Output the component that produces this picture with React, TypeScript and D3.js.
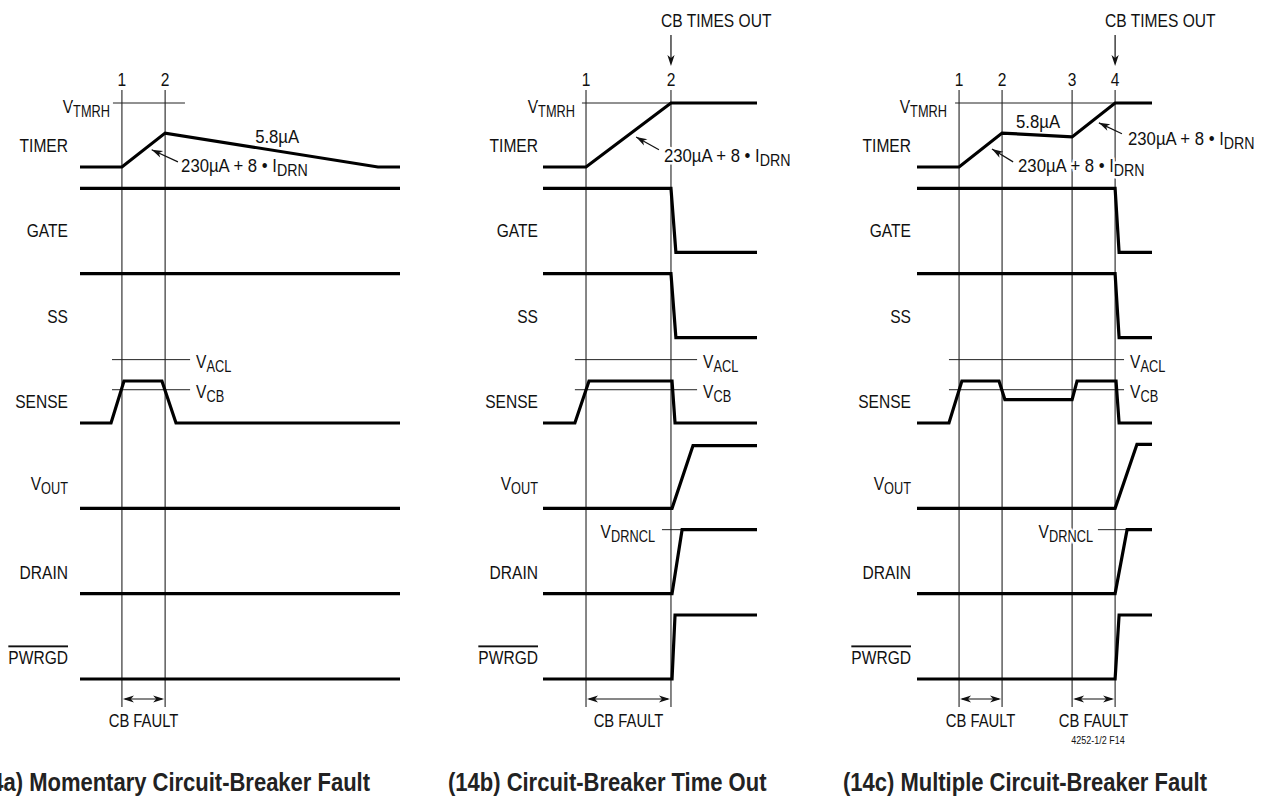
import React from 'react';
import * as d3 from 'd3';

type Pt = [number, number];

const rowNames = ['TIMER', 'GATE', 'SS', 'SENSE', 'VOUT', 'DRAIN', 'PWRGD'];

// Panel (14a)
const aMarks = [13.1, 26.6];
const aTimer: Pt[] = [[0, 0], [13.1, 0], [26.6, 0.53], [93.1, 0], [100, 0]];
const aGate: Pt[] = [[0, 1], [100, 1]];
const aSS: Pt[] = [[0, 1], [100, 1]];
const aSense: Pt[] = [[0, 0], [9.7, 0], [13.75, 0.656], [25.6, 0.656], [30, 0], [100, 0]];
const aVout: Pt[] = [[0, 0], [100, 0]];
const aDrain: Pt[] = [[0, 0], [100, 0]];
const aPwrgd: Pt[] = [[0, 0], [100, 0]];

// Panel (14b)
const bMarks = [20.1, 59.8];
const bTimer: Pt[] = [[0, 0], [20.1, 0], [59.8, 1], [100, 1]];
const bGate: Pt[] = [[0, 1], [59.8, 1], [62.1, 0], [100, 0]];
const bSS: Pt[] = [[0, 1], [59.8, 1], [62.1, 0], [100, 0]];
const bSense: Pt[] = [[0, 0], [14.9, 0], [21.5, 0.656], [60.3, 0.656], [61.7, 0], [100, 0]];
const bVout: Pt[] = [[0, 0], [60.3, 0], [70.1, 0.98], [100, 0.98]];
const bDrain: Pt[] = [[0, 0], [60.3, 0], [65.0, 1], [100, 1]];
const bPwrgd: Pt[] = [[0, 0], [60.3, 0], [61.7, 1], [100, 1]];

// Panel (14c)
const cMarks = [17.9, 36.2, 66.0, 84.3];
const cTimer: Pt[] = [[0, 0], [17.9, 0], [36.2, 0.53], [66.0, 0.47], [84.3, 1], [100, 1]];
const cGate: Pt[] = [[0, 1], [84.3, 1], [86.0, 0], [100, 0]];
const cSS: Pt[] = [[0, 1], [84.3, 1], [86.0, 0], [100, 0]];
const cSense: Pt[] = [[0, 0], [13.6, 0], [19.1, 0.656], [34.9, 0.656], [37.4, 0.366], [66.0, 0.366], [68.1, 0.656], [84.7, 0.656], [86.0, 0], [100, 0]];
const cVout: Pt[] = [[0, 0], [84.3, 0], [93.6, 1], [100, 1]];
const cDrain: Pt[] = [[0, 0], [84.3, 0], [89.4, 1], [100, 1]];
const cPwrgd: Pt[] = [[0, 0], [84.3, 0], [86.0, 1], [100, 1]];

const VTMRH = 1;
const VACL = 0.99;
const VCB = 0.52;
const VDRNCL = 1;

const titles = ['(14a) Momentary Circuit-Breaker Fault', '(14b) Circuit-Breaker Time Out', '(14c) Multiple Circuit-Breaker Fault'];
const markLabels = [['1', '2'], ['1', '2'], ['1', '2', '3', '4']];

const FONT = "'Liberation Sans', Arial, Helvetica, sans-serif";
const SX = 0.82; // condensed look
const FS = 19;

const rowBase = d3.scaleLinear().domain([0, 6]).range([167, 679]);
const rowY = (i: number) => d3.scaleLinear().domain([0, 1]).range([rowBase(i), rowBase(i) - 64]);

type PanelDef = {
  x0: number; x1: number; labelRight: number;
  marks: number[]; waves: Pt[][];
  tmrhFrom: number; tmrhTo: number | null; tmrhLabelX: number;
  aclFrom: number; aclTo: number;
  drnFrom: number | null; drnLabelX: number;
  rate: Pt | null;
  arrows: { tip: Pt; tail: Pt; textT: number; baseline: number }[];
  faults: [number, number][];
  timesOut: number | null;
  title: string; titleX: number; titleAnchor: 'start' | 'end';
};

const panels: PanelDef[] = [
  {
    x0: 80, x1: 400, labelRight: 68, marks: aMarks,
    waves: [aTimer, aGate, aSS, aSense, aVout, aDrain, aPwrgd],
    tmrhFrom: 10.3, tmrhTo: 32.8, tmrhLabelX: 110, aclFrom: 10, aclTo: 34.4,
    drnFrom: null, drnLabelX: 0,
    rate: [61.6, 143],
    arrows: [{ tip: [22.4, 0.27], tail: [30.6, 0.08], textT: 31.6, baseline: 172 }],
    faults: [[0, 1]], timesOut: null,
    title: titles[0], titleX: 370, titleAnchor: 'end',
  },
  {
    x0: 543, x1: 757, labelRight: 538, marks: bMarks,
    waves: [bTimer, bGate, bSS, bSense, bVout, bDrain, bPwrgd],
    tmrhFrom: 18.2, tmrhTo: null, tmrhLabelX: 575, aclFrom: 14.9, aclTo: 72,
    drnFrom: 55.6, drnLabelX: 655,
    rate: null,
    arrows: [{ tip: [43.5, 0.47], tail: [54.2, 0.27], textT: 56.5, baseline: 162 }],
    faults: [[0, 1]], timesOut: 1,
    title: titles[1], titleX: 448, titleAnchor: 'start',
  },
  {
    x0: 917, x1: 1152, labelRight: 911, marks: cMarks,
    waves: [cTimer, cGate, cSS, cSense, cVout, cDrain, cPwrgd],
    tmrhFrom: 16.2, tmrhTo: null, tmrhLabelX: 947, aclFrom: 13.6, aclTo: 88.1,
    drnFrom: 77.0, drnLabelX: 1093,
    rate: [51.5, 128],
    arrows: [
      { tip: [31.9, 0.28], tail: [40.9, 0.08], textT: 43, baseline: 172 },
      { tip: [77.4, 0.69], tail: [87.2, 0.52], textT: 89.8, baseline: 145 },
    ],
    faults: [[0, 1], [2, 3]], timesOut: 3,
    title: titles[2], titleX: 843, titleAnchor: 'start',
  },
];

const MARK_TOP = 90;
const MARK_BOTTOM = 707;
const halo = { stroke: 'white', strokeWidth: 5, paintOrder: 'stroke' as const, strokeLinejoin: 'round' as const };

function arrowHead(tip: Pt, from: Pt, len = 11, half = 3.6, notch = 3): string {
  const dx = tip[0] - from[0];
  const dy = tip[1] - from[1];
  const L = Math.hypot(dx, dy);
  const ux = dx / L, uy = dy / L;
  const px = -uy, py = ux;
  const bx = tip[0] - ux * len, by = tip[1] - uy * len;
  const nx = tip[0] - ux * (len - notch), ny = tip[1] - uy * (len - notch);
  return `M${tip[0]},${tip[1]}L${bx + px * half},${by + py * half}L${nx},${ny}L${bx - px * half},${by - py * half}Z`;
}

type NTProps = {
  x: number; y: number; anchor?: 'start' | 'middle' | 'end'; size?: number; sx?: number;
  weight?: string; fill?: string; withHalo?: boolean; style?: React.CSSProperties; children: React.ReactNode;
};

function NText({ x, y, anchor = 'start', size = FS, sx = SX, weight = 'normal', fill = '#111', withHalo = false, style, children }: NTProps) {
  return (
    <g transform={`translate(${x},${y}) scale(${sx},1)`}>
      <text x={0} y={0} textAnchor={anchor} fontSize={size} fontWeight={weight} fontFamily={FONT} fill={fill}
        style={style} {...(withHalo ? halo : {})}>
        {children}
      </text>
    </g>
  );
}

function VLabel({ x, y, main, sub, anchor = 'start' }: { x: number; y: number; main: string; sub: string; anchor?: 'start' | 'end' }) {
  return (
    <NText x={x} y={y} anchor={anchor} withHalo>
      {main}
      <tspan fontSize={FS * 0.82} dy={4}>{sub}</tspan>
    </NText>
  );
}

function Panel({ p, idx }: { p: PanelDef; idx: number }) {
  const xs = d3.scaleLinear().domain([0, 100]).range([p.x0, p.x1]);
  const yT = rowY(0);
  const yS = rowY(3);
  const yD = rowY(5);
  const mx = p.marks.map((m) => xs(m));
  return (
    <g>
      {/* marker lines */}
      {mx.map((x, i) => (
        <line key={'m' + i} x1={x} x2={x} y1={MARK_TOP} y2={MARK_BOTTOM} stroke="#222" strokeWidth={1.1} />
      ))}
      {/* reference levels */}
      <line x1={xs(p.tmrhFrom)} x2={p.tmrhTo !== null ? xs(p.tmrhTo) : mx[mx.length - 1]} y1={yT(VTMRH)} y2={yT(VTMRH)} stroke="#222" strokeWidth={1} />
      <line x1={xs(p.aclFrom)} x2={xs(p.aclTo)} y1={yS(VACL)} y2={yS(VACL)} stroke="#222" strokeWidth={1} />
      <line x1={xs(p.aclFrom)} x2={xs(p.aclTo)} y1={yS(VCB)} y2={yS(VCB)} stroke="#222" strokeWidth={1} />
      {p.drnFrom !== null && (
        <line x1={xs(p.drnFrom)} x2={xs(p.waves[5][2][0])} y1={yD(VDRNCL)} y2={yD(VDRNCL)} stroke="#222" strokeWidth={1} />
      )}
      {/* row labels */}
      {rowNames.map((n, i) => {
        const y = rowBase(i) - 15;
        if (n === 'VOUT') return <VLabel key={n} x={p.labelRight} y={y - 3} main="V" sub="OUT" anchor="end" />;
        return (
          <NText key={n} x={p.labelRight} y={y} anchor="end" style={n === 'PWRGD' ? { textDecoration: 'overline' } : undefined}>
            {n}
          </NText>
        );
      })}
      {/* marker numbers */}
      {mx.map((x, i) => (
        <NText key={'n' + i} x={x} y={86} anchor="middle">{markLabels[idx][i]}</NText>
      ))}
      {/* level labels */}
      <VLabel x={p.tmrhLabelX} y={yT(VTMRH) + 10} main="V" sub="TMRH" anchor="end" />
      <VLabel x={xs(p.aclTo) + 6} y={yS(VACL) + 8} main="V" sub="ACL" />
      <VLabel x={xs(p.aclTo) + 6} y={yS(VCB) + 8} main="V" sub="CB" />
      {p.drnFrom !== null && <VLabel x={p.drnLabelX} y={yD(VDRNCL) + 8} main="V" sub="DRNCL" anchor="end" />}
      {/* rate annotations */}
      {p.rate && (
        <NText x={xs(p.rate[0])} y={p.rate[1]} anchor="middle" sx={0.88} withHalo>5.8µA</NText>
      )}
      {p.arrows.map((a, i) => {
        const tip: Pt = [xs(a.tip[0]), yT(a.tip[1])];
        const tail: Pt = [xs(a.tail[0]), yT(a.tail[1])];
        return (
          <g key={'a' + i}>
            <NText x={xs(a.textT)} y={a.baseline} sx={0.88} withHalo>
              230µA + 8 • I<tspan fontSize={FS * 0.85} dy={4}>DRN</tspan>
            </NText>
            <line x1={tail[0]} y1={tail[1]} x2={tip[0]} y2={tip[1]} stroke="#111" strokeWidth={1.2} />
            <path d={arrowHead(tip, tail)} fill="#111" />
          </g>
        );
      })}
      {/* waveforms */}
      {p.waves.map((w, i) => {
        const ys = rowY(i);
        const line = d3.line<Pt>().x((d) => xs(d[0])).y((d) => ys(d[1]));
        return <path key={'w' + i} d={line(w) || ''} fill="none" stroke="#000" strokeWidth={3.2} strokeLinejoin="miter" />;
      })}
      {/* CB FAULT spans */}
      {p.faults.map(([i0, i1], k) => {
        const xa = mx[i0], xb = mx[i1];
        const y = 699;
        return (
          <g key={'f' + k}>
            <line x1={xa + 3} x2={xb - 3} y1={y} y2={y} stroke="#111" strokeWidth={1.2} />
            <path d={arrowHead([xa + 1, y], [xb, y])} fill="#111" />
            <path d={arrowHead([xb - 1, y], [xa, y])} fill="#111" />
            <NText x={(xa + xb) / 2} y={727} anchor="middle" sx={0.78}>CB FAULT</NText>
          </g>
        );
      })}
      {/* CB TIMES OUT */}
      {p.timesOut !== null && (
        <g>
          <NText x={mx[p.timesOut] - 10} y={27} anchor="start">CB TIMES OUT</NText>
          <line x1={mx[p.timesOut]} x2={mx[p.timesOut]} y1={35} y2={62} stroke="#111" strokeWidth={1.2} />
          <path d={arrowHead([mx[p.timesOut], 66], [mx[p.timesOut], 35])} fill="#111" />
        </g>
      )}
      {/* title */}
      <NText x={p.titleX} y={791} anchor={p.titleAnchor} size={25} sx={0.88} weight="bold" fill="#222">
        {p.title}
      </NText>
    </g>
  );
}

export default function App() {
  return (
    <svg width={1262} height={798} style={{ position: 'absolute', left: 0, top: 0, background: '#fff' }}>
      <rect x={0} y={0} width={1262} height={798} fill="#fff" />
      {panels.map((p, i) => (
        <Panel key={i} p={p} idx={i} />
      ))}
      <NText x={1098} y={744} anchor="middle" size={10} sx={0.9}>4252-1/2 F14</NText>
    </svg>
  );
}
